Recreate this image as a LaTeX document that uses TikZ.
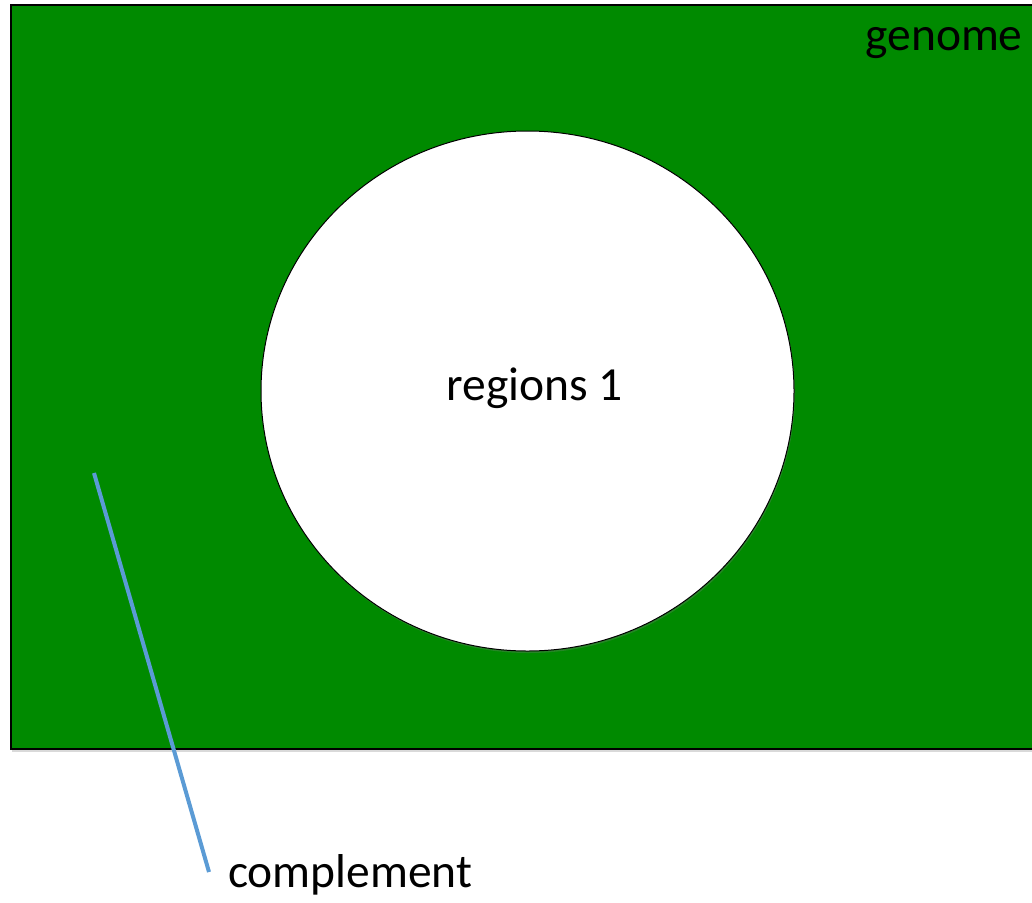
\documentclass[tikz,border=0pt]{standalone}
\usepackage{fontspec}
\setmainfont{Carlito}
\usetikzlibrary{positioning,shadows}
\definecolor{genomegreen}{RGB}{0,138,0}
\definecolor{linkblue}{RGB}{91,155,213}

\begin{document}
\begin{tikzpicture}[x=1pt,y=1pt]
\tikzstyle{every node}+=[inner sep=0pt,font=\fontsize{47.5}{56}\selectfont]
\useasboundingbox (0,0) rectangle (1032,-902);
\clip (0,0) rectangle (1032,-902);
\draw [black, line width=1.5pt, fill=genomegreen, drop shadow={shadow xshift=1pt, shadow yshift=-3pt, opacity=0.3}] (11,-5) rectangle (1045,-749);
\draw [black, line width=1pt, fill=white, drop shadow={shadow xshift=1pt, shadow yshift=-2pt, opacity=0.3}] (527.5,-391) ellipse (266.5 and 260);
\node (genome) [anchor=base] at (944,-50) {genome};
\node (regions) [anchor=base] at (535,-400) {regions 1};
\node (compl) [anchor=base west] at (228,-887) {complement};
\draw [linkblue, line width=4pt] (94,-473) -- ([xshift=-19pt,yshift=15pt]compl.base west);
\end{tikzpicture}
\end{document}
